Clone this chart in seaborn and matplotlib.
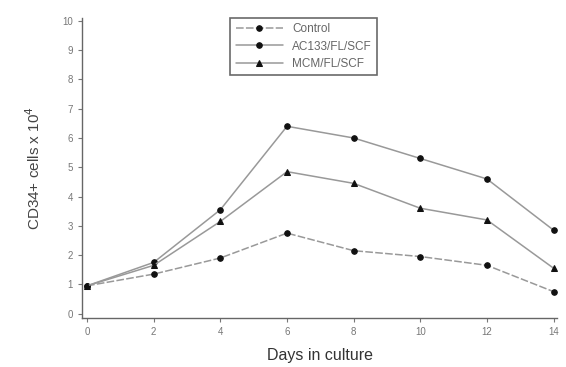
import matplotlib
matplotlib.use('Agg')
import pandas as pd
import matplotlib.pyplot as plt
import seaborn as sns

days = [0, 2, 4, 6, 8, 10, 12, 14]
control = [0.95, 1.35, 1.9, 2.75, 2.15, 1.95, 1.65, 0.75]
ac133 = [0.95, 1.75, 3.55, 6.4, 6.0, 5.3, 4.6, 2.85]
mcm = [0.95, 1.65, 3.15, 4.85, 4.45, 3.6, 3.2, 1.55]
labels = ['Control', 'AC133/FL/SCF', 'MCM/FL/SCF']

sns.set_style('ticks')
plt.rcParams['font.family'] = ['Liberation Sans', 'DejaVu Sans']

df = pd.DataFrame({'day': days * 3,
                   'cells': control + ac133 + mcm,
                   'group': [labels[0]] * 8 + [labels[1]] * 8 + [labels[2]] * 8})

fig = plt.figure(figsize=(5.66, 3.67), dpi=100)
ax = fig.add_axes([0.145, 0.1335, 0.839, 0.8175])

# line styles: control dashed, others solid
styles = {labels[0]: (5, 1.5), labels[1]: '', labels[2]: ''}
sns.lineplot(data=df, x='day', y='cells', hue='group', style='group',
             palette=['#999999'] * 3, dashes=styles,
             markers={labels[0]: 'o', labels[1]: 'o', labels[2]: '^'},
             markersize=4, markerfacecolor='#111111', markeredgecolor='#111111',
             linewidth=1.1, ax=ax)

ax.set_xlim(-0.15, 14.1)
ax.set_ylim(-0.15, 10.1)
ax.set_xticks(range(0, 15, 2))
ax.set_yticks(range(0, 11))
ax.tick_params(labelsize=7, colors='#777777', length=3, direction='out')
for s in ['top', 'right']:
    ax.spines[s].set_visible(False)
for s in ['left', 'bottom']:
    ax.spines[s].set_color('#666666')
    ax.spines[s].set_linewidth(1.0)

ax.set_xlabel('Days in culture', fontsize=11.5, color='#333333', labelpad=8)
ax.set_ylabel('CD34+ cells x 10$^4$', fontsize=11, color='#444444', labelpad=14)

leg = ax.legend(loc='upper left', bbox_to_anchor=(0.30, 1.02), fontsize=8.5,
                frameon=True, fancybox=False, edgecolor='#444444',
                handlelength=4, borderpad=0.45, labelspacing=0.45)
leg.get_frame().set_linewidth(1.2)
for t in leg.get_texts():
    t.set_color('#666666')

fig.savefig('out.png', dpi=100)
